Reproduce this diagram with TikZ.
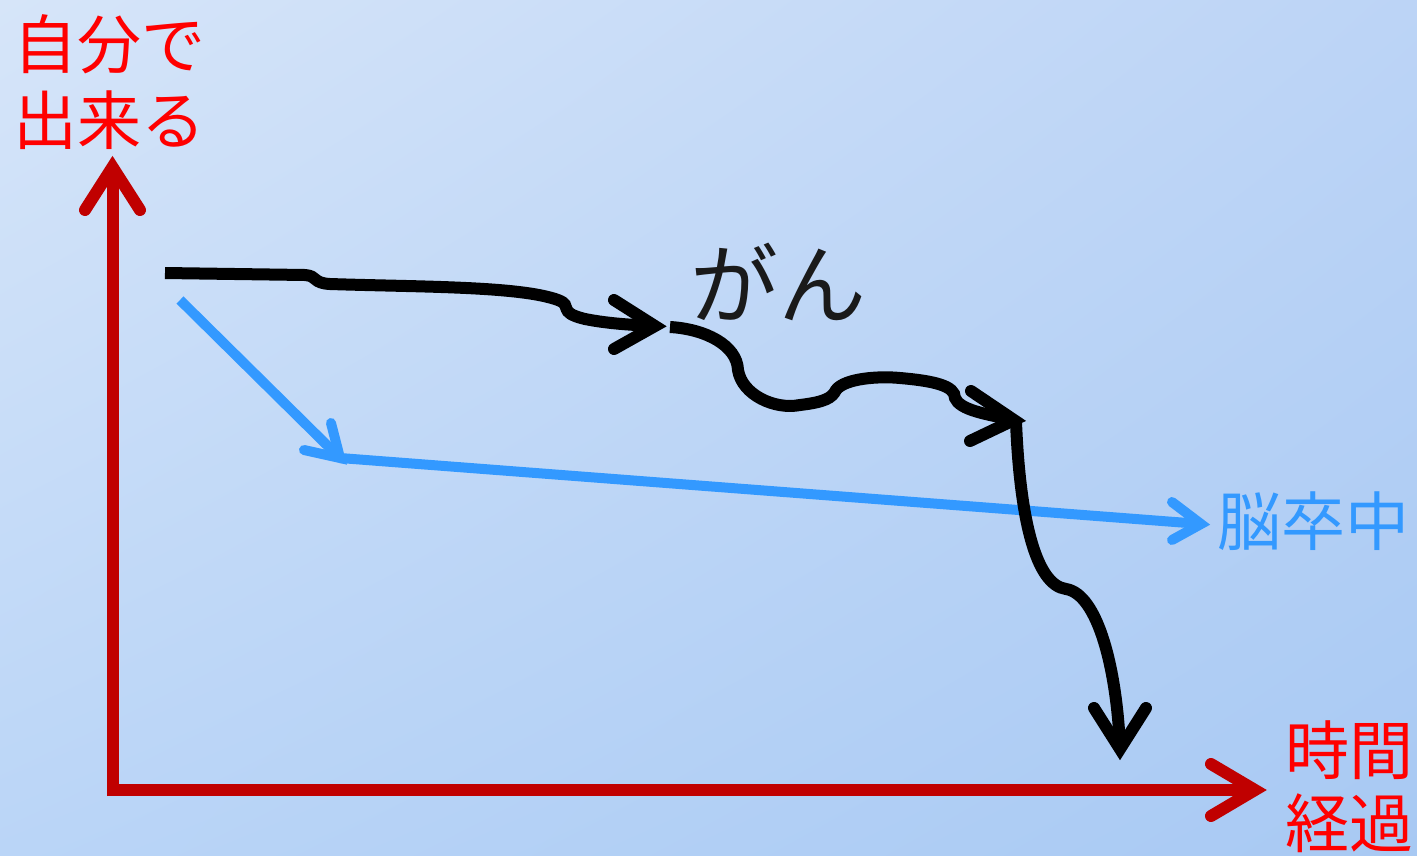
\documentclass[tikz,border=0pt]{standalone}
\usepackage{fontspec}
\usetikzlibrary{shadings}
\newfontfamily\jp{Noto Sans CJK JP}
\definecolor{axisred}{RGB}{192,0,0}
\definecolor{txtred}{RGB}{255,0,0}
\definecolor{skyblue}{RGB}{51,153,255}
\definecolor{ink}{RGB}{26,26,26}
\definecolor{bgul}{RGB}{214,229,249}
\definecolor{bgur}{RGB}{188,212,246}
\definecolor{bgll}{RGB}{186,213,247}
\definecolor{bglr}{RGB}{168,201,243}
\begin{document}
\begin{tikzpicture}[x=1pt,y=-1pt,
  axisline/.style={draw=axisred,line width=12pt},
  axishead/.style={draw=axisred,line width=12pt,line cap=round},
  blackline/.style={draw=black,line width=12pt},
  blackhead/.style={draw=black,line width=12pt,line cap=round},
  blueline/.style={draw=skyblue,line width=10pt},
  bluehead/.style={draw=skyblue,line width=10pt,line cap=round},
  lbl/.style={inner sep=0pt,anchor=base west,font=\jp\fontsize{64}{70}\selectfont}]
\shade[upper left=bgul,upper right=bgur,lower left=bgll,lower right=bglr] (0,0) rectangle (1417,855);
\useasboundingbox (0,0) rectangle (1417,855);

% texts
\node[lbl,text=txtred] (t1) at (13,68) {自分で};
\node[lbl,text=txtred] (t2) at (13,144) {出来る};
\node[lbl,text=txtred] (t3) at (1285,774) {時間};
\node[lbl,text=txtred] (t4) at (1285,847) {経過};
\node[lbl,text=skyblue] (t5) at (1217,545) {脳卒中};
\node[lbl,text=ink,font=\jp\fontsize{88}{96}\selectfont] (t6) at (690,317) {がん};

% axes
\coordinate (o) at (112.5,796);
\coordinate (ytip) at (112.5,167);
\coordinate (xs) at (107,790);
\coordinate (xtip) at (1255,790);
\draw[axisline] (o) -- (ytip);
\draw[axishead] (85,210) -- (ytip) -- (140,210);
\draw[axisline] (xs) -- (xtip);
\draw[axishead] (1211,764) -- (xtip) -- (1211,816);

% blue path
\coordinate (b0) at (180,300);
\coordinate (b1) at (340,458);
\coordinate (b2) at (1201,524);
\draw[blueline] (b0) -- (b1);
\draw[bluehead] (331,423) -- (b1) -- (304,450);
\draw[blueline] (b1) -- (b2);
\draw[bluehead] (1172,502) -- (b2) -- (1172,540);

% black path
\coordinate (k0) at (165,273);
\coordinate (k1) at (655,326);
\draw[blackline] (k0) -- (305,275) .. controls (318,276) and (312,283) .. (330,284)
  .. controls (420,287) and (520,286) .. (558,300)
  .. controls (574,306) and (556,312) .. (585,319)
  .. controls (610,324) and (635,325) .. (k1);
\draw[blackhead] (614,300) -- (k1) -- (614,349);

\coordinate (k2) at (670,327);
\coordinate (k3) at (1014,420);
\draw[blackline] (k2) .. controls (705,329) and (737,345) .. (738,370)
  .. controls (742,395) and (775,410) .. (800,405)
  .. controls (825,402) and (832,398) .. (836,390)
  .. controls (845,378) and (880,376) .. (900,378)
  .. controls (935,381) and (955,386) .. (955,398)
  .. controls (960,410) and (985,414) .. (k3);
\draw[blackhead] (971,391) -- (k3) -- (970,441);

\coordinate (k4) at (1016,422);
\coordinate (k5) at (1120,749);
\draw[blackline] (k4) .. controls (1020,520) and (1036,585) .. (1066,589)
  .. controls (1098,594) and (1117,670) .. (k5);
\draw[blackhead] (1094,708) -- (k5) -- (1146,708);
\end{tikzpicture}
\end{document}
